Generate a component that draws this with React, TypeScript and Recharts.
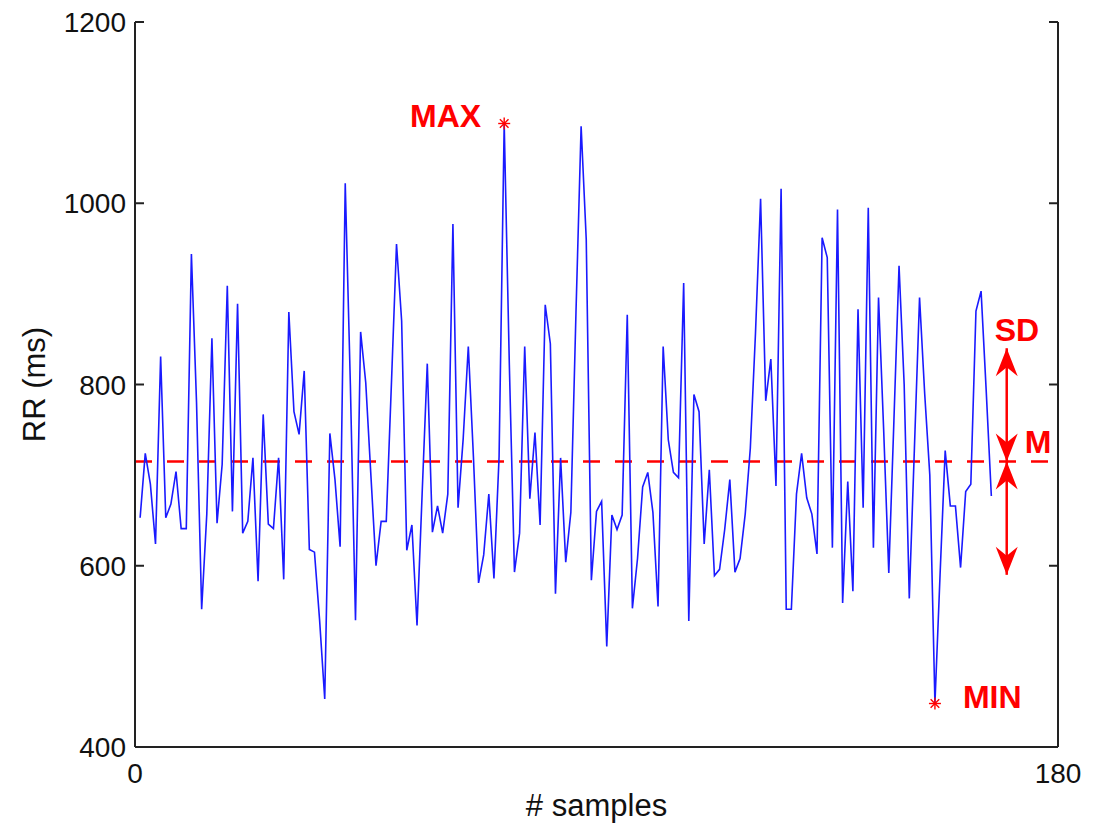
import { LineChart, Line, XAxis, YAxis, ReferenceLine, ReferenceDot } from "recharts";

// RR interval (ms) for each beat, sample 1..167
const RR = [
  653, 724, 690, 624, 831, 653, 668, 704, 641, 641,
  944, 780, 552, 657, 851, 647, 712, 909, 660, 889,
  636, 649, 719, 583, 767, 646, 641, 719, 585, 880,
  770, 745, 815, 618, 615, 540, 453, 746, 695, 621,
  1022, 800, 540, 858, 802, 700, 600, 649, 649, 800,
  955, 870, 617, 645, 534, 680, 823, 637, 666, 636,
  679, 977, 664, 740, 842, 720, 581, 612, 679, 586,
  720, 1088, 822, 593, 636, 842, 674, 747, 645, 888,
  845, 569, 719, 604, 659, 880, 1085, 960, 584, 660,
  671, 511, 656, 640, 656, 877, 553, 608, 687, 703,
  659, 555, 842, 739, 703, 697, 912, 539, 789, 770,
  624, 706, 589, 596, 640, 695, 593, 608, 657, 730,
  856, 1005, 782, 828, 688, 1016, 552, 552, 679, 724,
  675, 657, 613, 962, 940, 620, 993, 559, 693, 572,
  883, 664, 995, 620, 896, 750, 592, 760, 931, 800,
  564, 730, 896, 790, 700, 448, 590, 727, 666, 666,
  598, 682, 690, 881, 903, 793, 677,
];

const X_TICKS = [0, 180];
const Y_TICKS = [400, 600, 800, 1000, 1200];

const MEAN_RR = 715;
const SD_RR = 125;
const MAX_SAMPLE = 72;
const MIN_SAMPLE = 156;
const ARROW_SAMPLE = 170;

const FONT = '"Liberation Sans", Arial, Helvetica, sans-serif';
const RED = "#ff0000";
const AXIS = "#222222";
const TICK_LEN = 9;

const data = RR.map((rr, i) => ({ n: i + 1, rr }));

// left axis: label right-aligned, plus an inward tick mark
function LeftTick(p: any) {
  const ax = p.x + 9;
  return (
    <g>
      <line x1={ax} y1={p.y} x2={ax + TICK_LEN} y2={p.y} stroke={AXIS} strokeWidth={2} />
      <text x={p.x} y={p.y} dy="0.36em" textAnchor="end" fontSize={28} fill="#111" fontFamily={FONT}>
        {p.payload.value}
      </text>
    </g>
  );
}

// right axis: inward tick only
function RightTick(p: any) {
  return <line x1={p.x - TICK_LEN} y1={p.y} x2={p.x} y2={p.y} stroke={AXIS} strokeWidth={2} />;
}

function Asterisk({ cx, cy }: { cx: number; cy: number }) {
  const r = 6;
  const d = r * 0.72;
  return (
    <g stroke={RED} strokeWidth={1.4}>
      <line x1={cx - r} y1={cy} x2={cx + r} y2={cy} />
      <line x1={cx} y1={cy - r} x2={cx} y2={cy + r} />
      <line x1={cx - d} y1={cy - d} x2={cx + d} y2={cy + d} />
      <line x1={cx - d} y1={cy + d} x2={cx + d} y2={cy - d} />
    </g>
  );
}

function head(x: number, tip: number, dir: number) {
  // dir = +1 points down, -1 points up
  const pts = [
    [x, tip],
    [x - 11, tip - dir * 28],
    [x, tip - dir * 19],
    [x + 11, tip - dir * 28],
  ];
  return <polygon points={pts.map((p) => p.join(",")).join(" ")} fill={RED} />;
}

function DoubleArrow(props: any, labels: boolean) {
  const { x1, y1, x2, y2 } = props;
  const dirEnd = y2 > y1 ? 1 : -1;
  return (
    <g>
      <line x1={x1} y1={y1} x2={x2} y2={y2} stroke={RED} strokeWidth={2.5} />
      {head(x1, y1, -dirEnd)}
      {head(x2, y2, dirEnd)}
      {labels && (
        <g fill={RED} fontFamily={FONT} fontWeight="bold" fontSize={32}>
          <text x={x2 - 12} y={y2 - 7}>SD</text>
          <text x={x1 + 18} y={y1 - 9}>M</text>
        </g>
      )}
    </g>
  );
}

export default function App() {
  return (
    <div style={{ width: 1085, height: 817 }}>
      <LineChart
        width={1085}
        height={817}
        data={data}
        margin={{ top: 14, right: 25, bottom: 3, left: 17 }}
        style={{ fontFamily: FONT }}
      >
        <XAxis
          xAxisId="b"
          dataKey="n"
          type="number"
          domain={[0, 180]}
          ticks={X_TICKS}
          height={75}
          tickSize={0}
          tickMargin={16}
          tick={{ fontSize: 28, fill: "#111" }}
          axisLine={{ stroke: AXIS, strokeWidth: 2 }}
          tickLine={false}
          label={{ value: "# samples", position: "insideBottom", offset: 6, fontSize: 31, fill: "#111" }}
        />
        <XAxis
          xAxisId="t"
          orientation="top"
          type="number"
          domain={[0, 180]}
          ticks={X_TICKS}
          height={0}
          tick={false}
          tickLine={false}
          axisLine={{ stroke: AXIS, strokeWidth: 2 }}
        />
        <YAxis
          yAxisId="l"
          type="number"
          domain={[400, 1200]}
          ticks={Y_TICKS}
          width={110}
          tickSize={0}
          tickMargin={9}
          tick={LeftTick}
          tickLine={false}
          axisLine={{ stroke: AXIS, strokeWidth: 2 }}
          label={{
            value: "RR (ms)",
            angle: -90,
            position: "insideLeft",
            offset: 9,
            fontSize: 31,
            fill: "#111",
            style: { textAnchor: "middle" },
          }}
        />
        <YAxis
          yAxisId="r"
          orientation="right"
          type="number"
          domain={[400, 1200]}
          ticks={Y_TICKS}
          width={10}
          tickSize={0}
          tickMargin={0}
          tick={RightTick}
          tickLine={false}
          axisLine={{ stroke: AXIS, strokeWidth: 2 }}
        />
        <ReferenceLine
          xAxisId="b"
          yAxisId="l"
          y={MEAN_RR}
          stroke={RED}
          strokeWidth={2.5}
          strokeDasharray="17 15"
        />
        {/* invisible copy so the right-hand frame axis gets a scale and its ticks */}
        <Line
          xAxisId="b"
          yAxisId="r"
          dataKey="rr"
          stroke="none"
          dot={false}
          activeDot={false}
          isAnimationActive={false}
        />
        <Line
          xAxisId="b"
          yAxisId="l"
          dataKey="rr"
          type="linear"
          stroke="#1a1aff"
          strokeWidth={1.6}
          dot={false}
          isAnimationActive={false}
        />
        <ReferenceLine
          xAxisId="b"
          yAxisId="l"
          segment={[
            { x: ARROW_SAMPLE, y: MEAN_RR },
            { x: ARROW_SAMPLE, y: MEAN_RR + SD_RR },
          ]}
          shape={(p: any) => DoubleArrow(p, true)}
        />
        <ReferenceLine
          xAxisId="b"
          yAxisId="l"
          segment={[
            { x: ARROW_SAMPLE, y: MEAN_RR },
            { x: ARROW_SAMPLE, y: MEAN_RR - SD_RR },
          ]}
          shape={(p: any) => DoubleArrow(p, false)}
        />
        <ReferenceDot
          xAxisId="b"
          yAxisId="l"
          x={MAX_SAMPLE}
          y={RR[MAX_SAMPLE - 1]}
          shape={(p: any) => (
            <g>
              <Asterisk cx={p.cx} cy={p.cy} />
              <text x={p.cx - 23} y={p.cy + 3} textAnchor="end" fill={RED} fontFamily={FONT} fontWeight="bold" fontSize={32}>
                MAX
              </text>
            </g>
          )}
        />
        <ReferenceDot
          xAxisId="b"
          yAxisId="l"
          x={MIN_SAMPLE}
          y={RR[MIN_SAMPLE - 1]}
          shape={(p: any) => (
            <g>
              <Asterisk cx={p.cx} cy={p.cy} />
              <text x={p.cx + 28} y={p.cy + 4} fill={RED} fontFamily={FONT} fontWeight="bold" fontSize={32}>
                MIN
              </text>
            </g>
          )}
        />
      </LineChart>
    </div>
  );
}
